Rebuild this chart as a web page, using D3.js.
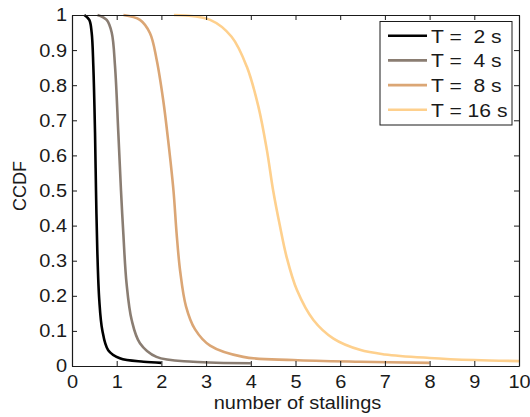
<!DOCTYPE html>
<html>
<head>
<meta charset="utf-8">
<script src="https://cdn.jsdelivr.net/npm/d3@7"></script>
<style>
  body { margin: 0; background: #fff; }
  svg text { font-family: "Liberation Sans", Arial, Helvetica, sans-serif; fill: #1a1a1a; }
</style>
</head>
<body>
<svg id="chart" width="530" height="417"></svg>
<script>
// CCDF of the number of stallings for four buffering intervals T
const seriesNames = ["T =  2 s", "T =  4 s", "T =  8 s", "T = 16 s"];
const seriesColors = ["#000000", "#8a7d72", "#dba675", "#fed08d"];

const xT2 = [0.275, 0.387, 0.44, 0.477, 0.515, 0.537, 0.566, 0.61, 0.678, 0.81, 1.07, 1.6, 2.0];
const yT2 = [1, 0.986, 0.95, 0.855, 0.665, 0.5, 0.33, 0.188, 0.102, 0.045, 0.022, 0.012, 0.009];

const xT4 = [0.57, 0.776, 0.888, 0.962, 1.036, 1.096, 1.148, 1.22, 1.335, 1.52, 1.89, 2.71, 4.0];
const yT4 = [1, 0.986, 0.95, 0.855, 0.665, 0.5, 0.378, 0.236, 0.131, 0.065, 0.026, 0.012, 0.008];

const xT8 = [1.15, 1.52, 1.745, 1.895, 2.04, 2.15, 2.27, 2.34, 2.42, 2.55, 2.75, 3.09, 3.83, 4.95, 6.44, 8.0];
const yT8 = [1, 0.986, 0.948, 0.872, 0.758, 0.644, 0.5, 0.378, 0.27, 0.17, 0.105, 0.058, 0.026, 0.017, 0.012, 0.009];

const xT16 = [2.28, 3.09, 3.57, 3.91, 4.17, 4.36, 4.5, 4.65, 4.8, 5.03, 5.4, 5.85, 6.44, 7, 8, 9, 10];
const yT16 = [1, 0.986, 0.938, 0.853, 0.739, 0.615, 0.5, 0.4, 0.311, 0.217, 0.131, 0.078, 0.046, 0.033, 0.023, 0.017, 0.014];

const xTicks = [0, 1, 2, 3, 4, 5, 6, 7, 8, 9, 10];
const yTicks = [0, 0.1, 0.2, 0.3, 0.4, 0.5, 0.6, 0.7, 0.8, 0.9, 1];

const seriesX = [xT2, xT4, xT8, xT16];
const seriesY = [yT2, yT4, yT8, yT16];

const svg = d3.select("#chart");
const plotLeft = 72, plotRight = 519, plotTop = 15, plotBottom = 366;
const fontSize = 18.5, stretch = 1.08;

const x = d3.scaleLinear().domain([0, 10]).range([plotLeft, plotRight]);
const y = d3.scaleLinear().domain([0, 1]).range([plotBottom, plotTop]);

// curves
const line = d3.line()
  .x(d => x(d[0]))
  .y(d => y(d[1]))
  .curve(d3.curveCatmullRom.alpha(0.5));

const plot = svg.append("g");
seriesX.forEach((xs, i) => {
  const pts = xs.map((v, j) => [v, seriesY[i][j]]);
  plot.append("path")
    .datum(pts)
    .attr("fill", "none")
    .attr("stroke", seriesColors[i])
    .attr("stroke-width", 2.6)
    .attr("d", line);
});

// axes with inward ticks on all four sides
const tickLen = 5;
const fmt = d => (d === 0 || d === 1) ? String(d) : d3.format(".1f")(d);

const xAxisB = d3.axisBottom(x).tickValues(xTicks).tickSizeInner(-tickLen).tickSizeOuter(0).tickPadding(9).tickFormat(d3.format("d"));
const xAxisT = d3.axisTop(x).tickValues(xTicks).tickSizeInner(-tickLen).tickSizeOuter(0).tickFormat("");
const yAxisL = d3.axisLeft(y).tickValues(yTicks).tickSizeInner(-tickLen).tickSizeOuter(0).tickPadding(5).tickFormat(fmt);
const yAxisR = d3.axisRight(y).tickValues(yTicks).tickSizeInner(-tickLen).tickSizeOuter(0).tickFormat("");

function style(g) {
  g.select(".domain").attr("stroke", "#1a1a1a").attr("stroke-width", 1.2);
  g.selectAll(".tick line").attr("stroke", "#1a1a1a").attr("stroke-width", 1);
  g.selectAll(".tick text").attr("font-size", fontSize).attr("fill", "#1a1a1a")
    .style("font-family", "'Liberation Sans', Arial, sans-serif")
    .attr("transform", `scale(${stretch},1)`)
    .attr("x", function () { return +d3.select(this).attr("x") / stretch; });
}

svg.append("g").attr("transform", `translate(0,${plotBottom})`).call(xAxisB).call(style);
svg.append("g").attr("transform", `translate(0,${plotTop})`).call(xAxisT).call(style);
svg.append("g").attr("transform", `translate(${plotLeft},0)`).call(yAxisL).call(style);
svg.append("g").attr("transform", `translate(${plotRight},0)`).call(yAxisR).call(style);

// axis titles
svg.append("text")
  .attr("transform", `translate(${(plotLeft + plotRight) / 2 + 2},409) scale(${stretch},1)`)
  .attr("text-anchor", "middle")
  .attr("font-size", fontSize)
  .text("number of stallings");

svg.append("text")
  .attr("transform", `translate(25.5,186) rotate(-90)`)
  .attr("text-anchor", "middle")
  .attr("font-size", 18)
  .text("CCDF");

// legend
const lg = svg.append("g");
lg.append("rect")
  .attr("x", 380).attr("y", 21.5)
  .attr("width", 132).attr("height", 103.5)
  .attr("fill", "#fff")
  .attr("stroke", "#1a1a1a")
  .attr("stroke-width", 1);

seriesNames.forEach((name, i) => {
  const cy = 35.7 + i * 24.7;
  lg.append("line")
    .attr("x1", 388).attr("x2", 427)
    .attr("y1", cy).attr("y2", cy)
    .attr("stroke", seriesColors[i])
    .attr("stroke-width", 2.6);
  lg.append("text")
    .attr("transform", `translate(431,${cy + 6.8}) scale(${stretch * 1.03},1)`)
    .attr("font-size", fontSize + 0.5)
    .attr("xml:space", "preserve")
    .style("white-space", "pre")
    .text(name);
});
</script>
</body>
</html>
